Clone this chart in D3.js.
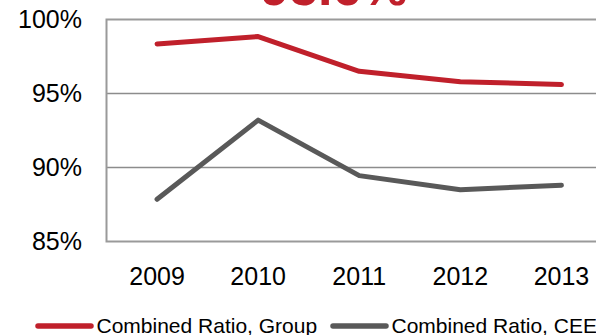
<!DOCTYPE html>
<html>
<head>
<meta charset="utf-8">
<script src="https://cdn.jsdelivr.net/npm/d3@7"></script>
<style>
  html, body { margin: 0; padding: 0; background: #fff; overflow: hidden; }
  svg { display: block; font-family: "Liberation Sans", Arial, sans-serif; }
</style>
</head>
<body>
<svg id="chart" width="596" height="335"></svg>
<script>
const years = ["2009", "2010", "2011", "2012", "2013"];
const groupRatio = [98.35, 98.85, 96.5, 95.8, 95.6];
const ceeRatio = [87.85, 93.2, 89.45, 88.5, 88.8];
const yTicks = [85, 90, 95, 100];
const seriesNames = ["Combined Ratio, Group", "Combined Ratio, CEE"];
const seriesColors = ["#C0202B", "#595959"];
const titleText = "95.6%";

const svg = d3.select("#chart");
const plotL = 106.5, plotR = 612, plotT = 19.5, plotB = 241.5;

const x = d3.scalePoint().domain(years).range([plotL, plotR]).padding(0.5);
const y = d3.scaleLinear().domain([85, 100]).range([plotB, plotT]);

// title (cut off at top, as in the reference)
svg.append("text")
  .attr("x", 334).attr("y", 5)
  .attr("text-anchor", "middle")
  .attr("font-size", 52).attr("font-weight", "bold")
  .attr("fill", seriesColors[0])
  .text(titleText);

// gridlines
svg.append("g").selectAll("line").data(yTicks.filter(d => d > 85 && d < 100)).join("line")
  .attr("x1", plotL).attr("x2", plotR)
  .attr("y1", d => y(d)).attr("y2", d => y(d))
  .attr("stroke", "#8c8c8c").attr("stroke-width", 1.5);

// border
svg.append("rect")
  .attr("x", plotL).attr("y", plotT)
  .attr("width", plotR - plotL).attr("height", plotB - plotT)
  .attr("fill", "none").attr("stroke", "#9a9a9a").attr("stroke-width", 2);

// y axis labels
svg.append("g").selectAll("text").data(yTicks).join("text")
  .attr("x", 82).attr("y", d => y(d))
  .attr("dy", "0.35em")
  .attr("text-anchor", "end")
  .attr("font-size", 25).attr("fill", "#000")
  .text(d => d + "%");

// x axis labels
svg.append("g").selectAll("text").data(years).join("text")
  .attr("x", d => x(d)).attr("y", 285)
  .attr("text-anchor", "middle")
  .attr("font-size", 25).attr("fill", "#000")
  .text(d => d);

// lines
const line = d3.line().x((d, i) => x(years[i])).y(d => y(d));
[groupRatio, ceeRatio].forEach((vals, k) => {
  svg.append("path")
    .attr("d", line(vals))
    .attr("fill", "none")
    .attr("stroke", seriesColors[k])
    .attr("stroke-width", 5)
    .attr("stroke-linecap", "round")
    .attr("stroke-linejoin", "round");
});

// legend
const legendX = [38, 333];
const lg = svg.append("g");
seriesNames.forEach((name, k) => {
  lg.append("line")
    .attr("x1", legendX[k]).attr("x2", legendX[k] + 53)
    .attr("y1", 326).attr("y2", 326)
    .attr("stroke", seriesColors[k]).attr("stroke-width", 5.5)
    .attr("stroke-linecap", "round");
  lg.append("text")
    .attr("x", legendX[k] + 58.5).attr("y", 332.7)
    .attr("font-size", 21).attr("fill", "#000")
    .text(name);
});
</script>
</body>
</html>
